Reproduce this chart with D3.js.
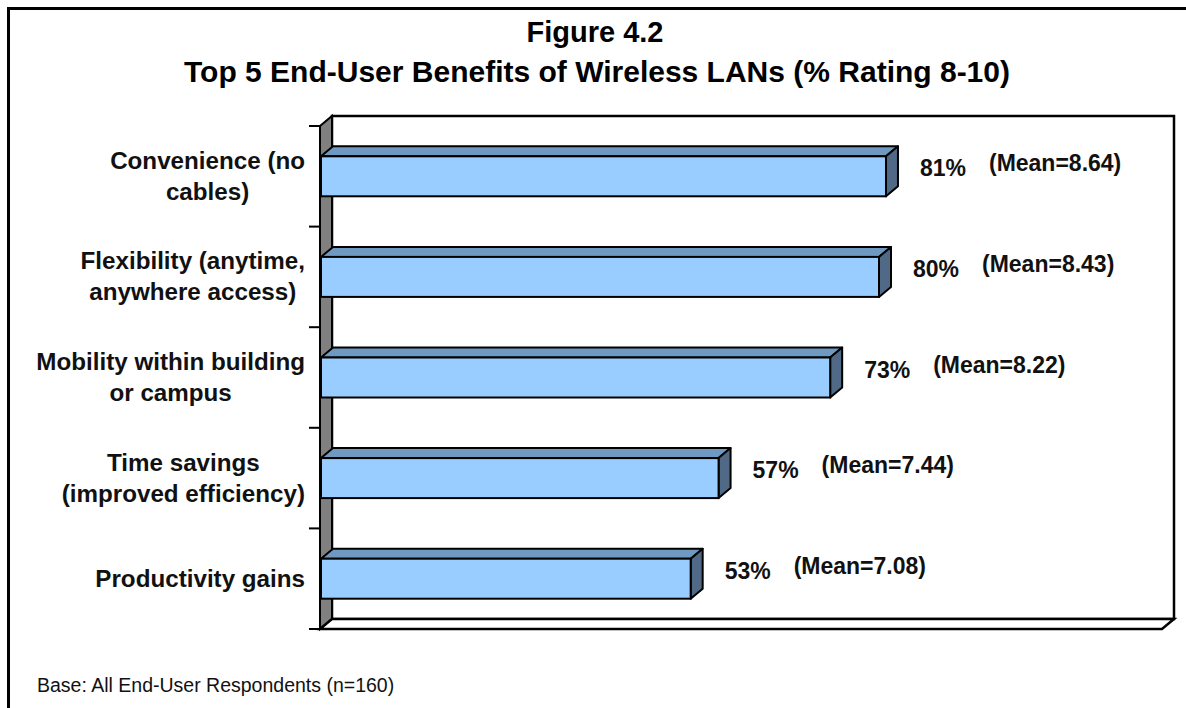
<!DOCTYPE html>
<html>
<head>
<meta charset="utf-8">
<script src="https://cdn.jsdelivr.net/npm/d3@7"></script>
<style>
  html, body { margin: 0; padding: 0; background: #fff; }
  svg { display: block; font-family: "Liberation Sans", Arial, sans-serif; }
</style>
</head>
<body>
<svg id="chart" width="1186" height="708"></svg>
<script>
// Benefit categories (each entry is the wrapped label lines)
const categories = [
  ["Convenience (no", "cables)"],
  ["Flexibility (anytime,", "anywhere access)"],
  ["Mobility within building", "or campus"],
  ["Time savings", "(improved efficiency)"],
  ["Productivity gains"]
];
// Share of respondents rating 8-10 (%)
const ratingShare = [81, 80, 73, 57, 53];
// Mean rating per benefit
const meanRating = [8.64, 8.43, 8.22, 7.44, 7.08];

const titleLines = ["Figure 4.2", "Top 5 End-User Benefits of Wireless LANs (% Rating 8-10)"];
const footnote = "Base: All End-User Respondents (n=160)";

const svg = d3.select("#chart");

// outer frame
svg.append("rect")
  .attr("x", 8.5).attr("y", 8.5)
  .attr("width", 1300).attr("height", 800)
  .attr("fill", "none").attr("stroke", "#000").attr("stroke-width", 3);

// titles
svg.append("text")
  .attr("x", 595).attr("y", 42)
  .attr("text-anchor", "middle")
  .attr("font-size", 29).attr("font-weight", "bold")
  .text(titleLines[0]);
svg.append("text")
  .attr("x", 597).attr("y", 82)
  .attr("text-anchor", "middle")
  .attr("font-size", 30).attr("font-weight", "bold")
  .text(titleLines[1]);

// plot geometry (front plane) and 3D depth offset
const plotLeft = 321, plotRight = 1158, plotTop = 126, plotBottom = 629;
const dx = 12, dy = 10;

const x = d3.scaleLinear().domain([0, 120]).range([plotLeft, plotRight]);
const y = d3.scaleBand().domain(d3.range(categories.length)).range([plotTop, plotBottom]);
const barH = 40;

const walls = svg.append("g");
// back wall
walls.append("rect")
  .attr("x", plotLeft + dx - 1).attr("y", plotTop - dy)
  .attr("width", (plotRight + 4 + dx) - (plotLeft + dx - 1)).attr("height", plotBottom - plotTop)
  .attr("fill", "#fff").attr("stroke", "#000").attr("stroke-width", 2.5);
// left side wall
walls.append("polygon")
  .attr("points", [[plotLeft - 1, plotTop], [plotLeft - 1 + dx, plotTop - dy], [plotLeft - 1 + dx, plotBottom - dy], [plotLeft - 1, plotBottom]].join(" "))
  .attr("fill", "#808080").attr("stroke", "#000").attr("stroke-width", 2);
// floor
walls.append("polygon")
  .attr("points", [[plotLeft - 1, plotBottom], [plotLeft - 1 + dx, plotBottom - dy], [plotRight + 4 + dx, plotBottom - dy], [plotRight + 4, plotBottom]].join(" "))
  .attr("fill", "#fff").attr("stroke", "#000").attr("stroke-width", 2.5);

// category axis ticks at band boundaries
const tickYs = d3.range(categories.length + 1).map(i => plotTop + i * y.step());
svg.append("g").selectAll("line").data(tickYs).join("line")
  .attr("x1", plotLeft - 12).attr("x2", plotLeft - 1)
  .attr("y1", d => d).attr("y2", d => d)
  .attr("stroke", "#000").attr("stroke-width", 2);

// bars
const bars = svg.append("g").selectAll("g").data(ratingShare).join("g");
bars.each(function(v, i) {
  const g = d3.select(this);
  const x0 = x(0), x1 = x(v);
  const yc = y(i) + y.bandwidth() / 2;
  const yt = yc - barH / 2, yb = yc + barH / 2;
  g.append("polygon")
    .attr("points", [[x0, yt], [x0 + dx, yt - dy], [x1 + dx, yt - dy], [x1, yt]].join(" "))
    .attr("fill", "#7099C2").attr("stroke", "#000").attr("stroke-width", 2).attr("stroke-linejoin", "round");
  g.append("polygon")
    .attr("points", [[x1, yt], [x1 + dx, yt - dy], [x1 + dx, yb - dy], [x1, yb]].join(" "))
    .attr("fill", "#4F6986").attr("stroke", "#000").attr("stroke-width", 2).attr("stroke-linejoin", "round");
  g.append("rect")
    .attr("x", x0).attr("y", yt)
    .attr("width", x1 - x0).attr("height", barH)
    .attr("fill", "#99CCFF").attr("stroke", "#000").attr("stroke-width", 2);
});

// value labels
const labels = svg.append("g").attr("font-weight", "bold").attr("font-size", 23).attr("fill", "#111");
labels.selectAll("text.pct").data(ratingShare).join("text")
  .attr("class", "pct")
  .attr("x", d => x(d) + 34)
  .attr("y", (d, i) => y(i) + y.bandwidth() / 2 + 0)
  .text(d => d + "%");
labels.selectAll("text.mean").data(meanRating).join("text")
  .attr("class", "mean")
  .attr("x", (d, i) => x(ratingShare[i]) + 103)
  .attr("y", (d, i) => y(i) + y.bandwidth() / 2 - 5)
  .text(d => "(Mean=" + d.toFixed(2) + ")");

// category labels, centered blocks whose right edge sits at the axis
const catG = svg.append("g").attr("font-weight", "bold").attr("font-size", 24.2).attr("fill", "#111");
categories.forEach((lines, i) => {
  const yc = y(i) + y.bandwidth() / 2;
  const lh = 31;
  const t = catG.append("text").attr("text-anchor", "middle");
  lines.forEach((ln, k) => {
    t.append("tspan")
      .attr("y", yc + (k - (lines.length - 1) / 2) * lh + 8)
      .text(ln);
  });
  const maxW = d3.max(t.selectAll("tspan").nodes(), n => n.getComputedTextLength());
  t.selectAll("tspan").attr("x", 305 - maxW / 2);
});

// footnote
svg.append("text")
  .attr("x", 37).attr("y", 692)
  .attr("font-size", 19.5).attr("fill", "#111")
  .text(footnote);
</script>
</body>
</html>
